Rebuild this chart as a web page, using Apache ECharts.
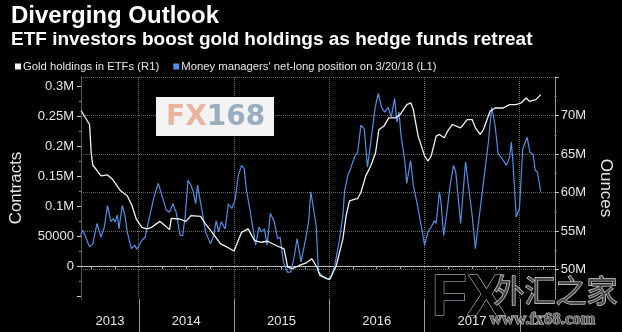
<!DOCTYPE html>
<html><head><meta charset="utf-8">
<script src="https://cdn.jsdelivr.net/npm/echarts@6/dist/echarts.min.js"></script>
<style>html,body{margin:0;padding:0;background:#000;}#c{width:622px;height:332px;}</style>
</head><body><div id="c"></div>
<script>
// ---- data (time as decimal year) ----
const xMin = 2013.395, xMax = 2018.37;
const yearTicks = [2014, 2015, 2016, 2017, 2018];
const yearLabelPos = [2013.70, 2014.5, 2015.5, 2016.5, 2017.5];
const leftTickValues = [-50000, 0, 50000, 100000, 150000, 200000, 250000, 300000];
const leftLabelValues = [0, 50000, 100000, 150000, 200000, 250000, 300000];
const rightTickValues = [50, 55, 60, 65, 70, 75];
const rightLabelValues = [50, 55, 60, 65, 70];

const seriesNames = ['Gold holdings in ETFs (R1)', "Money managers' net-long position on 3/20/18 (L1)"];

// Money managers' net-long position, thousands of contracts (left axis)
const blueT = [2013.392,2013.416,2013.450,2013.485,2013.519,2013.563,2013.605,2013.640,2013.674,2013.708,
2013.735,2013.753,2013.777,2013.794,2013.828,2013.856,2013.880,2013.924,2013.959,2013.982,
2014.034,2014.068,2014.103,2014.161,2014.206,2014.250,2014.291,2014.325,2014.360,2014.394,
2014.436,2014.463,2014.490,2014.518,2014.549,2014.573,2014.600,2014.618,2014.634,2014.662,
2014.703,2014.755,2014.789,2014.814,2014.840,2014.868,2014.909,2014.943,2014.978,2015.012,
2015.046,2015.081,2015.108,2015.133,2015.167,2015.201,2015.229,2015.263,2015.287,2015.321,
2015.349,2015.383,2015.424,2015.458,2015.486,2015.520,2015.561,2015.596,2015.630,2015.664,
2015.705,2015.751,2015.785,2015.808,2015.829,2015.864,2015.888,2015.939,2015.991,2016.025,
2016.060,2016.111,2016.145,2016.163,2016.197,2016.231,2016.266,2016.300,2016.334,2016.369,
2016.403,2016.420,2016.447,2016.482,2016.516,2016.550,2016.585,2016.619,2016.653,2016.688,
2016.712,2016.734,2016.755,2016.796,2016.815,2016.856,2016.884,2016.935,2017.003,2017.038,
2017.072,2017.107,2017.124,2017.158,2017.175,2017.203,2017.237,2017.271,2017.306,2017.330,
2017.381,2017.433,2017.467,2017.502,2017.536,2017.553,2017.587,2017.621,2017.673,2017.707,
2017.742,2017.775,2017.827,2017.862,2017.896,2017.913,2017.930,2017.965,2017.999,2018.033,
2018.079,2018.109,2018.143,2018.164,2018.187,2018.222];
const blueK = [51,60,46,32,37,71,48,65,101,74,
79,74,85,62,101,85,57,29,35,28,
43,48,74,115,138,115,93,90,104,90,
51,51,85,143,135,124,104,135,132,96,
57,37,51,76,57,74,62,104,96,110,
151,168,163,126,96,62,35,65,57,62,
35,88,74,46,48,7,-10,-10,12,46,
7,43,74,124,121,68,-10,-18,-22,-16,
1,46,85,126,151,165,182,190,235,229,
165,163,218,263,288,265,257,265,249,280,
240,257,218,174,138,176,135,96,35,57,
65,76,71,124,107,51,90,135,168,157,
71,174,129,85,29,32,96,140,207,265,
235,188,177,168,182,207,174,82,96,195,
215,190,186,160,157,124];

// Gold holdings in ETFs, million ounces (right axis)
const whiteT = [2013.395,2013.485,2013.502,2013.519,2013.553,2013.605,2013.674,2013.725,2013.811,2013.880,
2013.931,2013.975,2014.034,2014.085,2014.137,2014.222,2014.257,2014.325,2014.343,2014.428,
2014.497,2014.549,2014.652,2014.690,2014.758,2014.861,2014.930,2015.002,2015.081,2015.149,
2015.218,2015.287,2015.355,2015.442,2015.527,2015.565,2015.617,2015.685,2015.754,2015.819,
2015.872,2015.905,2015.973,2016.008,2016.076,2016.145,2016.179,2016.214,2016.300,2016.334,
2016.385,2016.437,2016.488,2016.523,2016.575,2016.626,2016.694,2016.746,2016.815,2016.859,
2016.884,2016.935,2017.003,2017.038,2017.072,2017.124,2017.158,2017.209,2017.244,2017.296,
2017.381,2017.450,2017.502,2017.536,2017.587,2017.621,2017.690,2017.742,2017.827,2017.896,
2017.965,2018.016,2018.068,2018.102,2018.171,2018.223];
const whiteM = [70.65,68.84,65.17,63.55,63.03,62.17,62.30,61.74,60.23,59.59,
58.30,56.58,55.50,55.29,55.50,56.27,55.94,55.20,56.66,56.58,
56.27,57.01,56.92,56.14,55.07,53.35,52.92,52.43,54.85,55.29,
53.78,53.56,53.69,53.14,52.71,50.34,50.13,50.55,50.85,51.42,
50.34,49.26,48.84,48.75,50.55,54.00,57.01,58.94,59.24,60.01,
62.17,63.46,65.17,68.19,68.62,69.69,69.69,70.13,71.42,71.63,
70.77,67.33,64.75,64.10,64.75,67.33,67.55,67.11,67.97,68.84,
68.40,69.48,69.48,68.40,67.55,68.19,70.55,70.98,70.98,71.42,
71.42,71.63,72.27,71.85,72.06,72.71];

// ---- chart ----
const FONT = "'Liberation Sans', Arial, sans-serif";
const chart = echarts.init(document.getElementById('c'), null, {renderer: 'canvas'});
const blueData = blueT.map((t, i) => [t, blueK[i] * 1000]);
const whiteData = whiteT.map((t, i) => [t, whiteM[i]]);

const watermark = [
  {type: 'rect', left: 156, top: 97, shape: {width: 118, height: 39}, style: {fill: '#f3f3f3'}, z: 50},
  {type: 'text', left: 166, top: 104, z: 51,
   style: {text: '{a|FX}{b|168}', rich: {
     a: {fill: '#ebb29e', fontSize: 28, fontWeight: 'bold', fontFamily: "'DejaVu Sans', sans-serif"},
     b: {fill: '#98adc0', fontSize: 28, fontWeight: 'bold', fontFamily: "'DejaVu Sans', sans-serif"}}}},
  {type: 'text', left: 431, top: 269, z: 60,
   style: {text: 'FX', fontSize: 58, fontWeight: 'bold', fontFamily: FONT,
     fill: new echarts.graphic.LinearGradient(0, 0, 0, 1, [{offset: 0, color: '#4aa0e8'}, {offset: 1, color: '#1c3f8c'}]),
     stroke: '#cfd8e8', lineWidth: 1}},
  {type: 'text', left: 493, top: 274, z: 60,
   style: {text: '外汇之家', fontSize: 31, fontFamily: "'Noto Sans CJK SC', sans-serif",
     fill: 'rgba(70,70,70,0.85)', stroke: '#d6d6d6', lineWidth: 1.2}},
  {type: 'text', left: 489, top: 311, z: 60,
   style: {text: 'www.fx68.com', fontSize: 17, fontWeight: 'bold', fontFamily: "'Liberation Serif', serif",
     fill: 'rgba(90,90,90,0.9)', stroke: '#d6d6d6', lineWidth: 1}}
];

const option = {
  backgroundColor: '#000',
  animation: false,
  textStyle: {fontFamily: FONT},
  title: [
    {text: 'Diverging Outlook', left: 6, top: -1,
     textStyle: {color: '#fff', fontSize: 24, fontWeight: 'bold', fontFamily: FONT}},
    {text: 'ETF investors boost gold holdings as hedge funds retreat', left: 6, top: 25,
     textStyle: {color: '#fff', fontSize: 19, fontWeight: 'bold', fontFamily: FONT}}
  ],
  legend: {
    data: seriesNames, left: 10, top: 56, icon: 'rect', itemWidth: 6, itemHeight: 6, itemGap: 14,
    textStyle: {color: '#e6e6e6', fontSize: 11.3, fontFamily: FONT, padding: [0, 0, 0, -3]}
  },
  grid: {left: 81, right: 58, top: 77, bottom: 33},
  xAxis: {
    type: 'value', min: xMin, max: xMax, splitNumber: 5,
    axisLine: {lineStyle: {color: '#bbb', width: 1}},
    axisTick: {show: false},
    minorTick: {show: true, splitNumber: 4, length: 3, lineStyle: {color: '#aaa'}},
    axisLabel: {customValues: yearLabelPos, formatter: v => String(Math.floor(v)),
                color: '#e6e6e6', fontSize: 13, margin: 16, fontFamily: FONT},
    splitLine: {show: true, lineStyle: {type: 'dotted', color: '#666'}}
  },
  yAxis: [
    {
      type: 'value', position: 'left', min: -55000, max: 315500, splitNumber: 7,
      name: 'Contracts', nameLocation: 'middle', nameGap: 56, nameRotate: 90,
      nameTextStyle: {color: '#e6e6e6', fontSize: 17, fontFamily: FONT},
      axisLine: {show: true, lineStyle: {color: '#555'}},
      axisTick: {show: true, customValues: leftTickValues, length: 4, lineStyle: {color: '#ccc'}},
      minorTick: {show: true, splitNumber: 2, length: 2, lineStyle: {color: '#888'}},
      axisLabel: {customValues: leftLabelValues, color: '#e6e6e6', fontSize: 13, margin: 7, fontFamily: FONT,
        formatter: v => (leftLabelValues.indexOf(v) < 0 ? '' : (v >= 100000 ? (v / 1e6) + 'M' : String(v)))},
      splitLine: {show: false}
    },
    {
      type: 'value', position: 'right', min: 46.2, max: 75, splitNumber: 6,
      name: 'Ounces', nameLocation: 'middle', nameGap: 36, nameRotate: -90,
      nameTextStyle: {color: '#e6e6e6', fontSize: 17, fontFamily: FONT},
      axisLine: {show: true, lineStyle: {color: '#999'}},
      axisTick: {show: true, customValues: rightTickValues, length: 4, lineStyle: {color: '#ccc'}},
      minorTick: {show: true, splitNumber: 2, length: 2, lineStyle: {color: '#888'}},
      axisLabel: {customValues: rightLabelValues, color: '#e6e6e6', fontSize: 13, margin: 6, fontFamily: FONT,
        formatter: v => (rightLabelValues.indexOf(v) < 0 ? '' : v + 'M')},
      splitLine: {show: true, lineStyle: {type: 'dotted', color: '#666'}}
    }
  ],
  series: [
    {name: seriesNames[1], type: 'line', yAxisIndex: 0, data: blueData, showSymbol: false,
     color: '#5090e6', lineStyle: {color: '#5090e6', width: 1.2}, z: 2},
    {name: seriesNames[0], type: 'line', yAxisIndex: 1, data: whiteData, showSymbol: false,
     color: '#f4f4f4', lineStyle: {color: '#f4f4f4', width: 1.3}, z: 3}
  ],
  graphic: watermark
};
chart.setOption(option);

// Year separators below the x axis, positioned through the axis scale
const axisY = chart.convertToPixel({yAxisIndex: 0}, -55000);
const sepLines = yearTicks.map(yr => {
  const px = Math.round(chart.convertToPixel({xAxisIndex: 0}, yr)) + 0.5;
  return {type: 'line', z: 10, shape: {x1: px, y1: axisY, x2: px, y2: 332},
          style: {stroke: '#9a9a9a', lineWidth: 1}};
});
chart.setOption({graphic: watermark.concat(sepLines)}, {replaceMerge: ['graphic']});
</script>
</body></html>
